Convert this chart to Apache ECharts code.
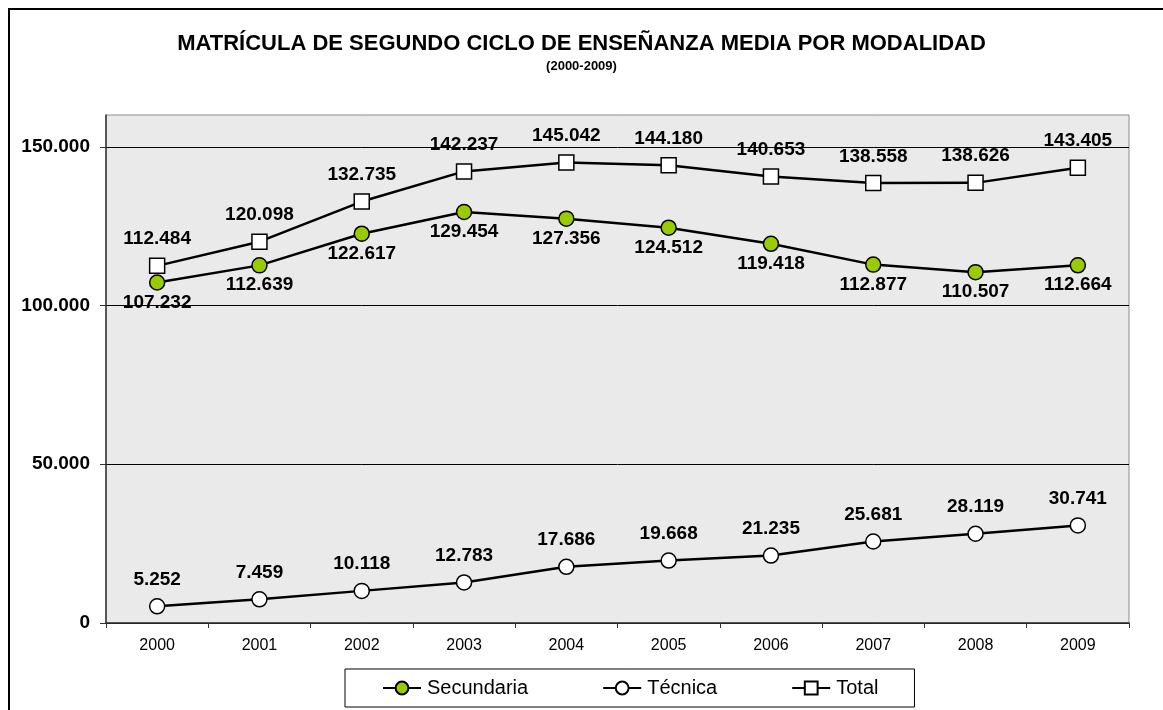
<!DOCTYPE html>
<html>
<head>
<meta charset="utf-8">
<style>
  html, body { margin: 0; padding: 0; background: #fff; }
  #chart { width: 1163px; height: 710px; }
</style>
<script src="https://cdn.jsdelivr.net/npm/echarts@6/dist/echarts.min.js"></script>
</head>
<body>
<div id="chart"></div>
<script>
// Enrolment in upper secondary education by track, 2000-2009
const years = ['2000', '2001', '2002', '2003', '2004', '2005', '2006', '2007', '2008', '2009'];
const secundaria = [107232, 112639, 122617, 129454, 127356, 124512, 119418, 112877, 110507, 112664];
const tecnica = [5252, 7459, 10118, 12783, 17686, 19668, 21235, 25681, 28119, 30741];
const total = [112484, 120098, 132735, 142237, 145042, 144180, 140653, 138558, 138626, 143405];
const yTicks = { min: 0, max: 160000, interval: 50000 };

const FONT = "'Liberation Sans', Arial, sans-serif";

// Thousands separated with dots
function fmt(v) {
  return String(v).replace(/\B(?=(\d{3})+(?!\d))/g, '.');
}

const labelStyle = {
  show: true,
  fontFamily: FONT,
  fontSize: 19,
  fontWeight: 'bold',
  color: '#000',
  formatter: p => fmt(p.value)
};

function lineSeries(name, data, symbol, fill, labelPos, labelDist) {
  return {
    name: name,
    type: 'line',
    data: data,
    symbol: symbol,
    symbolSize: 15,
    lineStyle: { color: '#000', width: 2.5 },
    itemStyle: { color: fill, borderColor: '#000', borderWidth: 1.5 },
    label: Object.assign({}, labelStyle, { position: labelPos, distance: labelDist }),
    emphasis: { disabled: true },
    animation: false
  };
}

const chart = echarts.init(document.getElementById('chart'), null, { renderer: 'canvas' });

chart.setOption({
  backgroundColor: '#fff',
  animation: false,
  textStyle: { fontFamily: FONT },
  graphic: [{
    type: 'rect',
    shape: { x: 9, y: 9, width: 1300, height: 900 },
    style: { fill: 'none', stroke: '#000', lineWidth: 2 },
    silent: true,
    z: -10
  }],
  title: {
    text: 'MATRÍCULA DE SEGUNDO CICLO DE ENSEÑANZA MEDIA POR MODALIDAD',
    subtext: '(2000-2009)',
    left: 'center',
    top: 28,
    itemGap: 5,
    textStyle: { fontFamily: FONT, fontSize: 22, fontWeight: 'bold', color: '#000' },
    subtextStyle: { fontFamily: FONT, fontSize: 13, fontWeight: 'bold', color: '#000' }
  },
  grid: {
    left: 106,
    right: 34,
    top: 115,
    bottom: 87,
    show: true,
    backgroundColor: '#eaeaea',
    borderColor: '#8c8c8c',
    borderWidth: 1
  },
  legend: {
    data: ['Secundaria', 'Técnica', 'Total'],
    left: 345,
    top: 669,
    orient: 'horizontal',
    padding: [9, 36, 9, 37],
    itemGap: 74,
    itemWidth: 38,
    itemHeight: 16,
    borderColor: '#000',
    borderWidth: 1,
    textStyle: { fontFamily: FONT, fontSize: 20, color: '#000', padding: [0, 0, 0, 1] }
  },
  xAxis: {
    type: 'category',
    data: years,
    boundaryGap: true,
    axisLine: { show: true, lineStyle: { color: '#333', width: 1.5 } },
    axisTick: { show: true, length: 5, lineStyle: { color: '#333' } },
    axisLabel: { fontFamily: FONT, fontSize: 16, color: '#000', margin: 15 },
    splitLine: { show: false }
  },
  yAxis: {
    type: 'value',
    min: yTicks.min,
    max: yTicks.max,
    interval: yTicks.interval,
    axisLine: { show: true, lineStyle: { color: '#333', width: 1.5 } },
    axisTick: { show: true, length: 6, lineStyle: { color: '#333' } },
    axisLabel: {
      fontFamily: FONT, fontSize: 19, fontWeight: 'bold', color: '#000', margin: 16,
      showMaxLabel: false,
      formatter: v => fmt(v)
    },
    splitLine: { show: true, showMaxLine: false, lineStyle: { color: '#000', width: 1 } }
  },
  series: [
    lineSeries('Secundaria', secundaria, 'circle', '#99cc00', 'bottom', 2),
    lineSeries('Técnica', tecnica, 'circle', '#fff', 'top', 9),
    lineSeries('Total', total, 'rect', '#fff', 'top', 9)
  ]
});
</script>
</body>
</html>
